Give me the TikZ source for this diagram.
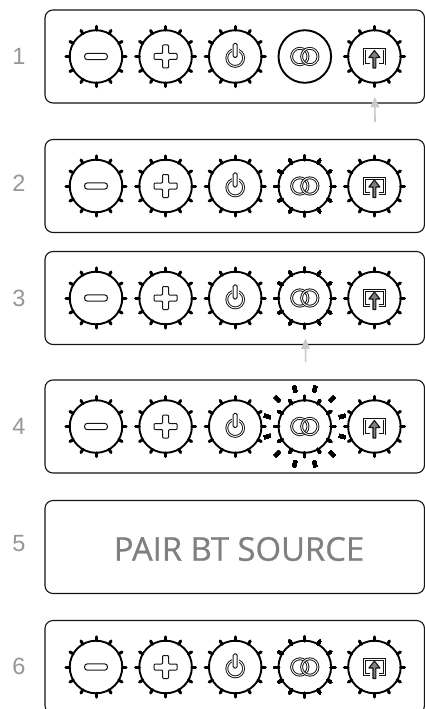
\documentclass[tikz,border=0pt]{standalone}
\usepackage{fontspec}
\setmainfont{Liberation Sans}
\newfontfamily\pairfont[FakeBold=0.7]{Open Sans}
\usetikzlibrary{arrows.meta, calc}
\definecolor{numgray}{HTML}{969696}
\definecolor{pairgray}{HTML}{808080}
\definecolor{pointgray}{HTML}{C9C9C9}
\definecolor{inkdark}{HTML}{141414}
\tikzset{
	panel/.style={draw=inkdark, line width=1.1pt, rounded corners=8pt, minimum width=379.5pt, minimum height=93pt, inner sep=0pt, outer sep=0pt},
	knob/.style={circle, draw=black, line width=1.9pt, fill=white, minimum size=52.6pt, inner sep=0pt, outer sep=0pt},
	spoke/.style={line width=3pt, line cap=round, black},
	glow/.style={line width=3.6pt, black},
	num/.style={numgray, font=\fontsize{23.5}{25}\selectfont},
	pointer/.style={draw=pointgray, fill=pointgray, line width=1.6pt, -{Triangle[width=8.5pt,length=10.5pt]}, shorten >=14pt},
	icon/.style={draw=inkdark, line width=1pt, line join=round},
	ring/.style={draw=inkdark, line width=.95pt, double=white, double distance=.9pt},
	minusicon/.pic={\draw[icon, fill=white, rounded corners=3pt] (-11.5,-3.2) rectangle (11.5,3.2);},
	plusicon/.pic={\draw[icon, fill=white, rounded corners=.9pt]
		(-3,-11.5) -- (3,-11.5) -- (3,-3) -- (11.5,-3) -- (11.5,3) -- (3,3) -- (3,11.5) -- (-3,11.5) -- (-3,3) -- (-11.5,3) -- (-11.5,-3) -- (-3,-3) -- cycle;},
	powericon/.pic={
		\draw[ring] (0,-1.5) circle (8.4pt);
		\fill[white] (-3.4,-1) rectangle (3.4,10);
		\draw[icon, fill=white, rounded corners=1.5pt] (-2,-1) rectangle (2,13.2);},
	ringsicon/.pic={
		\draw[ring] (-5,0) circle (8.2pt);
		\draw[ring] (5,0) circle (8.2pt);},
	shareicon/.pic={
		\draw[ring, miter limit=2] (-4.5,-7.5) -- (-9.8,-7.5) -- (-9.8,7.5) -- (9.8,7.5) -- (9.8,-7.5) -- (4.5,-7.5);
		\fill[white] (-3.5,-12) rectangle (3.5,4);
		\draw[icon, fill=pairgray, line width=1.1pt] (-1.4,-11.5) -- (1.4,-11.5) -- (1.4,-1) -- (5.5,-1) -- (0,6) -- (-5.5,-1) -- (-1.4,-1) -- cycle;},
}
% one row: the five knobs with their icons
\newcommand{\knobrow}[2]{
	\node[knob] (#1a) at (96,#2) {};
	\node[knob, right of=#1a] (#1b) {};
	\node[knob, right of=#1b] (#1c) {};
	\node[knob, right of=#1c] (#1d) {};
	\node[knob, right of=#1d] (#1e) {};
	\pic at (#1a) {minusicon};
	\pic at (#1b) {plusicon};
	\pic at (#1c) {powericon};
	\pic at (#1d) {ringsicon};
	\pic at (#1e) {shareicon};
}
\newcommand{\knobspokes}[1]{
	\foreach \a in {0,30,...,330}
		\draw[spoke] (#1.\a) -- ++(\a:3.8);
}
\begin{document}
\begin{tikzpicture}[x=1pt, y=1pt, node distance=69.6pt]
	\useasboundingbox (0,0) rectangle (424,-709);
	\node[panel] (p1) at (234.75,-56.5) {};
	\node[panel] (p2) at (234.75,-186) {};
	\node[panel] (p3) at (234.75,-298) {};
	\node[panel] (p4) at (234.75,-426.5) {};
	\node[panel] (p5) at (234.75,-547) {};
	\node[panel] (p6) at (234.75,-667) {};
	\node[num] (n1) at (19,-56.5) {1};
	\node[num] (n2) at (19,-183.5) {2};
	\node[num] (n3) at (19,-298) {3};
	\node[num] (n4) at (19,-426) {4};
	\node[num] (n5) at (19,-544) {5};
	\node[num] (n6) at (19,-666) {6};
	\knobrow{1}{-56.5}
	\knobrow{2}{-186}
	\knobrow{3}{-298}
	\knobrow{4}{-426.5}
	\knobrow{6}{-667}
	\foreach \r in {1,2,3,4,6}
		\foreach \k in {a,b,c,e}
			\knobspokes{\r\k}
	\foreach \r in {2,3,4,6}
		\knobspokes{\r d}
	% flashing marks round the pair knob
	\foreach \a in {15,45,...,345}
		\draw[glow] ($(4d)+(\a:35.5)$) -- ($(4d)+(\a:42)$);
	\node[pairgray, font=\pairfont\fontsize{32.8}{36}\selectfont] (pair) at (239,-549) {PAIR BT SOURCE};
	\coordinate (a1) at (375,-122);
	\coordinate (a3) at (305.7,-362);
	\draw[pointer] (a1) -- (1e);
	\draw[pointer] (a3) -- (3d);
\end{tikzpicture}
\end{document}
